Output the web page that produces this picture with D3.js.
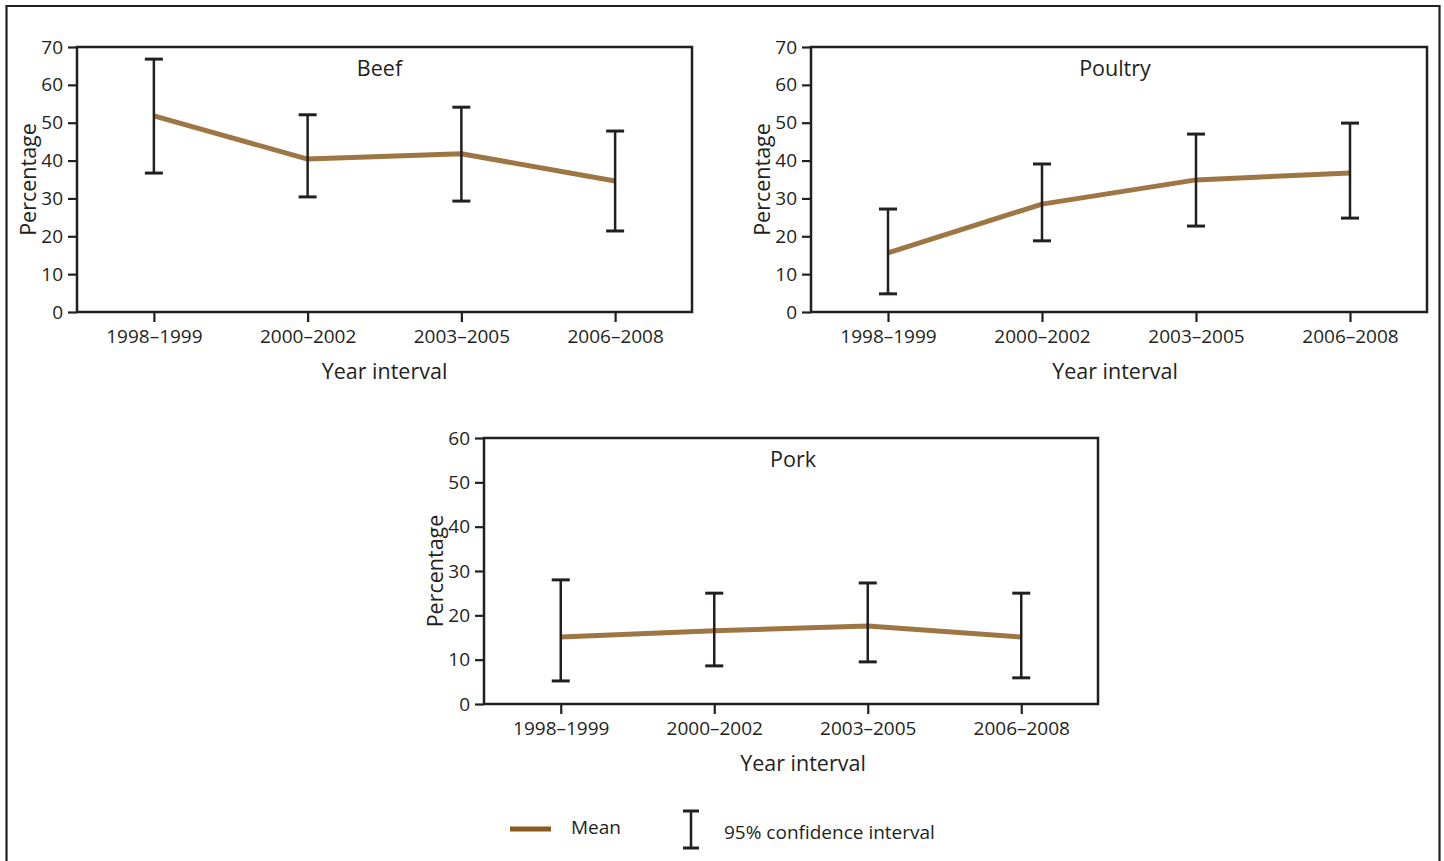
<!DOCTYPE html>
<html>
<head>
<meta charset="utf-8">
<script src="https://cdn.jsdelivr.net/npm/d3@7"></script>
<style>
  html, body { margin: 0; padding: 0; background: #fff; }
  svg { display: block; }
  text { font-family: "Open Sans", "Noto Sans", sans-serif; fill: #231f20; }
</style>
</head>
<body>
<svg id="chart" width="1444" height="861"></svg>
<script>
// ---- Data ----
const categories = ["1998–1999", "2000–2002", "2003–2005", "2006–2008"];

const beefMean = [51.8, 40.4, 41.8, 34.6];
const beefLow  = [36.7, 30.4, 29.3, 21.4];
const beefHigh = [66.8, 52.1, 54.1, 47.8];

const poultryMean = [15.6, 28.5, 34.9, 36.7];
const poultryLow  = [4.8, 18.8, 22.7, 24.8];
const poultryHigh = [27.2, 39.1, 47.0, 49.9];

const porkMean = [15.1, 16.5, 17.6, 15.1];
const porkLow  = [5.2, 8.6, 9.5, 5.9];
const porkHigh = [28.0, 25.0, 27.3, 25.0];

const ticks70 = [0, 10, 20, 30, 40, 50, 60, 70];
const ticks60 = [0, 10, 20, 30, 40, 50, 60];

const panelTitles = ["Beef", "Poultry", "Pork"];
const yAxisTitle = "Percentage";
const xAxisTitle = "Year interval";
const legendLabels = ["Mean", "95% confidence interval"];

// ---- Layout / style ----
const INK = "#231f20";
const LINE = "#9e7644";
const LEGEND_LINE = "#8a5a1f";
const TICK_FS = 19;
const TITLE_FS = 21.5;

const panels = [
  { title: panelTitles[0], mean: beefMean, low: beefLow, high: beefHigh, ticks: ticks70, yMax: 70,
    x0: 77, x1: 692, y0: 47, y1: 312, xTitleDx: 0, titleDx: -5 },
  { title: panelTitles[1], mean: poultryMean, low: poultryLow, high: poultryHigh, ticks: ticks70, yMax: 70,
    x0: 811, x1: 1427, y0: 47, y1: 312, xTitleDx: -4, titleDx: -4 },
  { title: panelTitles[2], mean: porkMean, low: porkLow, high: porkHigh, ticks: ticks60, yMax: 60,
    x0: 484, x1: 1098, y0: 438, y1: 704, xTitleDx: 12, titleDx: 2 }
];

const svg = d3.select("#chart");

// outer border
svg.append("path")
  .attr("d", "M6.5,861 L6.5,6 L1439.5,6 L1439.5,861")
  .attr("fill", "none").attr("stroke", INK).attr("stroke-width", 2.2);

panels.forEach(p => {
  const g = svg.append("g");
  const x = d3.scalePoint().domain(categories).range([p.x0, p.x1]).padding(0.5);
  const y = d3.scaleLinear().domain([0, p.yMax]).range([p.y1, p.y0]);

  // y axis
  const yAxis = g.append("g").attr("transform", `translate(${p.x0},0)`)
    .call(d3.axisLeft(y).tickValues(p.ticks).tickSize(9).tickPadding(5).tickFormat(d3.format("d")));
  yAxis.select(".domain").remove();
  yAxis.selectAll(".tick line").attr("stroke", INK).attr("stroke-width", 2.2);
  yAxis.selectAll(".tick text").attr("font-size", TICK_FS).attr("fill", INK)
    .style("font-family", "'Open Sans', sans-serif");

  // x axis
  const xAxis = g.append("g").attr("transform", `translate(0,${p.y1})`)
    .call(d3.axisBottom(x).tickSize(10).tickPadding(8));
  xAxis.select(".domain").remove();
  xAxis.selectAll(".tick line").attr("stroke", INK).attr("stroke-width", 2.2);
  xAxis.selectAll(".tick text").attr("font-size", TICK_FS).attr("fill", INK)
    .style("font-family", "'Open Sans', sans-serif");

  // frame
  g.append("rect")
    .attr("x", p.x0).attr("y", p.y0)
    .attr("width", p.x1 - p.x0).attr("height", p.y1 - p.y0)
    .attr("fill", "none").attr("stroke", INK).attr("stroke-width", 2.5);

  // titles
  g.append("text")
    .attr("x", (p.x0 + p.x1) / 2 + p.titleDx).attr("y", p.y0 + 20)
    .attr("text-anchor", "middle").attr("dominant-baseline", "central")
    .attr("font-size", TITLE_FS).text(p.title);

  g.append("text")
    .attr("transform", `translate(${p.x0 - 50},${(p.y0 + p.y1) / 2}) rotate(-90)`)
    .attr("text-anchor", "middle").attr("dominant-baseline", "central")
    .attr("font-size", TITLE_FS).text(yAxisTitle);

  g.append("text")
    .attr("x", (p.x0 + p.x1) / 2 + p.xTitleDx).attr("y", p.y1 + 58)
    .attr("text-anchor", "middle").attr("dominant-baseline", "central")
    .attr("font-size", TITLE_FS).text(xAxisTitle);

  // mean line
  const line = d3.line().x((d, i) => x(categories[i])).y(d => y(d));
  g.append("path").datum(p.mean)
    .attr("d", line).attr("fill", "none")
    .attr("stroke", LINE).attr("stroke-width", 5).attr("stroke-linejoin", "round");

  // error bars
  const eb = g.selectAll(".eb").data(categories).enter().append("g");
  eb.append("line")
    .attr("x1", d => x(d)).attr("x2", d => x(d))
    .attr("y1", (d, i) => y(p.low[i])).attr("y2", (d, i) => y(p.high[i]))
    .attr("stroke", INK).attr("stroke-width", 2.5);
  eb.append("line")
    .attr("x1", d => x(d) - 9).attr("x2", d => x(d) + 9)
    .attr("y1", (d, i) => y(p.high[i])).attr("y2", (d, i) => y(p.high[i]))
    .attr("stroke", INK).attr("stroke-width", 3);
  eb.append("line")
    .attr("x1", d => x(d) - 9).attr("x2", d => x(d) + 9)
    .attr("y1", (d, i) => y(p.low[i])).attr("y2", (d, i) => y(p.low[i]))
    .attr("stroke", INK).attr("stroke-width", 3);
});

// legend
const lg = svg.append("g");
lg.append("line").attr("x1", 510).attr("x2", 551).attr("y1", 829).attr("y2", 829)
  .attr("stroke", LEGEND_LINE).attr("stroke-width", 5);
lg.append("text").attr("x", 571).attr("y", 827).attr("dominant-baseline", "central")
  .attr("font-size", 19).text(legendLabels[0]);
lg.append("line").attr("x1", 691).attr("x2", 691).attr("y1", 811).attr("y2", 848)
  .attr("stroke", INK).attr("stroke-width", 2.5);
lg.append("line").attr("x1", 683).attr("x2", 699).attr("y1", 811).attr("y2", 811)
  .attr("stroke", INK).attr("stroke-width", 3);
lg.append("line").attr("x1", 683).attr("x2", 699).attr("y1", 848).attr("y2", 848)
  .attr("stroke", INK).attr("stroke-width", 3);
lg.append("text").attr("x", 724).attr("y", 832).attr("dominant-baseline", "central")
  .attr("font-size", 19).text(legendLabels[1]);
</script>
</body>
</html>
